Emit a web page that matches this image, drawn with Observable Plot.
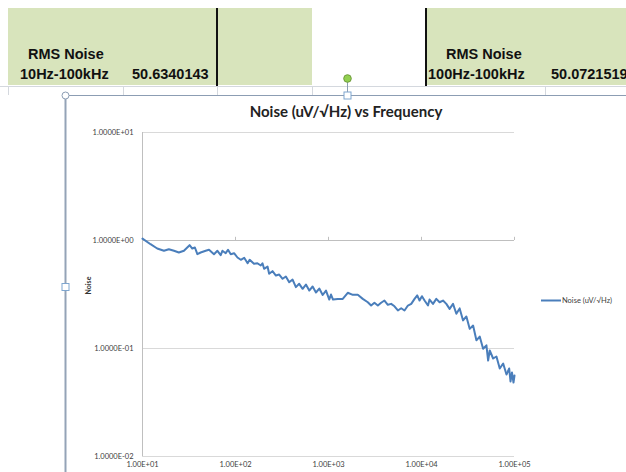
<!DOCTYPE html>
<html><head><meta charset="utf-8">
<script src="https://cdn.jsdelivr.net/npm/d3@7"></script>
<script src="https://cdn.jsdelivr.net/npm/@observablehq/plot@0.6"></script>
<style>
html,body{margin:0;padding:0;background:#fff;}
#page{position:relative;width:626px;height:472px;overflow:hidden;font-family:"Liberation Sans",Arial,sans-serif;}
.cell{position:absolute;background:#d8e4bc;top:8px;height:77px;}
.t{position:absolute;font-weight:bold;font-size:14.5px;color:#111;white-space:nowrap;line-height:1;}
#title{position:absolute;left:65px;width:562px;top:104px;text-align:center;font-family:Lato,sans-serif;font-weight:bold;font-size:15px;color:#222;line-height:1;}
#chart{position:absolute;left:65px;top:95px;}
svg.ov{position:absolute;left:0;top:0;}
</style></head>
<body><div id="page">
<div class="cell" style="left:8px;width:210px;"></div>
<div class="cell" style="left:218px;width:94px;"></div>
<div class="cell" style="left:426px;width:200px;"></div>
<div class="t" style="left:28px;top:47px;">RMS Noise</div>
<div class="t" style="left:20px;top:67px;">10Hz-100kHz</div>
<div class="t" style="left:132px;top:67px;">50.6340143</div>
<div class="t" style="left:446px;top:47px;">RMS Noise</div>
<div class="t" style="left:428px;top:67px;">100Hz-100kHz</div>
<div class="t" style="left:551px;top:67px;">50.0721519</div>
<div id="title">Noise (uV/√Hz) vs Frequency</div>
<div id="chart"></div>
<svg class="ov" width="626" height="472">
  <line x1="217" y1="8" x2="217" y2="86" stroke="#111" stroke-width="2"/>
  <line x1="426" y1="8" x2="426" y2="86" stroke="#111" stroke-width="2"/>
  <line x1="0" y1="86.5" x2="626" y2="86.5" stroke="#d4d8de" stroke-width="1"/>
  <g stroke="#d4d8de" stroke-width="1">
    <line x1="8.5" y1="86" x2="8.5" y2="95"/>
    <line x1="123.5" y1="86" x2="123.5" y2="95"/>
    <line x1="217.5" y1="86" x2="217.5" y2="95"/>
    <line x1="312.5" y1="86" x2="312.5" y2="95"/>
    <line x1="545.5" y1="86" x2="545.5" y2="95"/>
  </g>
  <line x1="65" y1="95.5" x2="626" y2="95.5" stroke="#8c9db3" stroke-width="1"/>
  <line x1="65.5" y1="95" x2="65.5" y2="472" stroke="#94a3b7" stroke-width="2"/>
  <line x1="347.5" y1="82" x2="347.5" y2="92" stroke="#8c9db3" stroke-width="1"/>
  <circle cx="347.5" cy="78.5" r="3.8" fill="#92d050" stroke="#6f9c3c" stroke-width="1"/>
  <circle cx="65.5" cy="95.5" r="3.5" fill="#fff" stroke="#8c9db3" stroke-width="1"/>
  <rect x="344" y="92" width="7" height="7" fill="#fff" stroke="#7fa6cf" stroke-width="1"/>
  <rect x="62" y="283.5" width="7" height="7" fill="#fff" stroke="#7fa6cf" stroke-width="1"/>
  <line x1="541" y1="300.5" x2="561" y2="300.5" stroke="#4a7ebb" stroke-width="2"/>
  <text x="562" y="303" font-family="Lato, sans-serif" font-size="7.5" fill="#404040">Noise (uV/√Hz)</text>
</svg>
</div>
<script>
const freq = [10,12.2,14.4,17.0,19.2,21.8,24.6,27.9,30.3,32.1,
34.3,36.6,38.9,42.2,47.8,51.9,58.7,63.9,69.3,72.3,
78.5,83.1,88.9,96.5,105,114,124,135,142,158,
172,187,195,203,221,230,250,272,295,321,
348,378,411,446,484,527,572,621,675,733,
796,866,940,1020,1064,1118,1257,1423,1611,1824,
2065,2337,2646,2872,3118,3393,3681,3996,4347,4719,
5122,5573,6049,6566,7143,7755,8418,9000,9528,10110,
10790,11740,12210,13290,14430,15650,17030,18490,20060,21830,
23700,25720,27990,30380,32970,35870,38940,42260,45970,49910,
52040,54150,58930,63960,69420,75530,81990,87670,90560,93980,97540,100000];
const noise = [1.04,0.924,0.843,0.803,0.831,0.803,0.774,0.803,0.861,0.905,
0.843,0.861,0.747,0.774,0.803,0.820,0.747,0.803,0.731,0.803,
0.763,0.820,0.747,0.763,0.696,0.663,0.692,0.616,0.663,0.608,
0.616,0.587,0.616,0.547,0.574,0.492,0.520,0.474,0.484,0.442,
0.464,0.411,0.435,0.370,0.397,0.357,0.391,0.344,0.375,0.330,
0.359,0.313,0.344,0.284,0.316,0.284,0.288,0.288,0.328,0.314,
0.314,0.288,0.268,0.250,0.265,0.250,0.265,0.278,0.254,0.259,
0.246,0.225,0.236,0.225,0.250,0.259,0.288,0.310,0.278,0.305,
0.278,0.250,0.284,0.259,0.288,0.268,0.278,0.259,0.233,0.259,
0.210,0.235,0.182,0.198,0.152,0.163,0.119,0.129,0.0994,0.107,
0.0774,0.0958,0.0808,0.0843,0.0653,0.0726,0.0574,0.0653,0.0495,0.0599,0.0484,0.0562];
const xTickValues = [10,100,1000,10000,100000];
const xTickLabels = ["1.00E+01","1.00E+02","1.00E+03","1.00E+04","1.00E+05"];
const yTickValues = [10,1,0.1,0.01];
const yTickLabels = ["1.0000E+01","1.0000E+00","1.0000E-01","1.0000E-02"];
const yAxisTitle = "Noise";

const data = freq.map((f,i)=>({f, v: noise[i]}));
const xLab = new Map(xTickValues.map((v,i)=>[v,xTickLabels[i]]));
const yLab = new Map(yTickValues.map((v,i)=>[v,yTickLabels[i]]));

const chart = Plot.plot({
  width: 561, height: 380,
  marginLeft: 77, marginRight: 112, marginTop: 37, marginBottom: 19,
  style: {fontFamily: "Lato, sans-serif", color: "#404040", background: "transparent"},
  x: {type: "log", domain: [10, 100000]},
  y: {type: "log", domain: [0.01, 10]},
  marks: [
    Plot.ruleY(yTickValues.filter(d=>d!==1), {stroke: "#d9d9d9", strokeWidth: 1}),
    Plot.ruleY([1], {stroke: "#bfbfbf", strokeWidth: 1}),
    Plot.ruleX([10], {stroke: "#bfbfbf", strokeWidth: 1}),
    Plot.ruleX(xTickValues, {y1: 1, y2: 1.07, stroke: "#bfbfbf"}),
    Plot.axisX({ticks: xTickValues, tickFormat: d=>xLab.get(d), tickSize: 0, tickPadding: 5, fontSize: 7.5, label: null}),
    Plot.axisY({ticks: yTickValues, tickFormat: d=>yLab.get(d), tickSize: 0, tickPadding: 9, fontSize: 7.5, label: null}),
    Plot.text([yAxisTitle], {frameAnchor: "left", dx: -54, rotate: -90, fontWeight: "bold", fontSize: 7, fill: "#333"}),
    Plot.line(data, {x: "f", y: "v", stroke: "#4a7ebb", strokeWidth: 2, strokeLinejoin: "round"})
  ]
});
document.getElementById("chart").appendChild(chart);
</script>
</body></html>
